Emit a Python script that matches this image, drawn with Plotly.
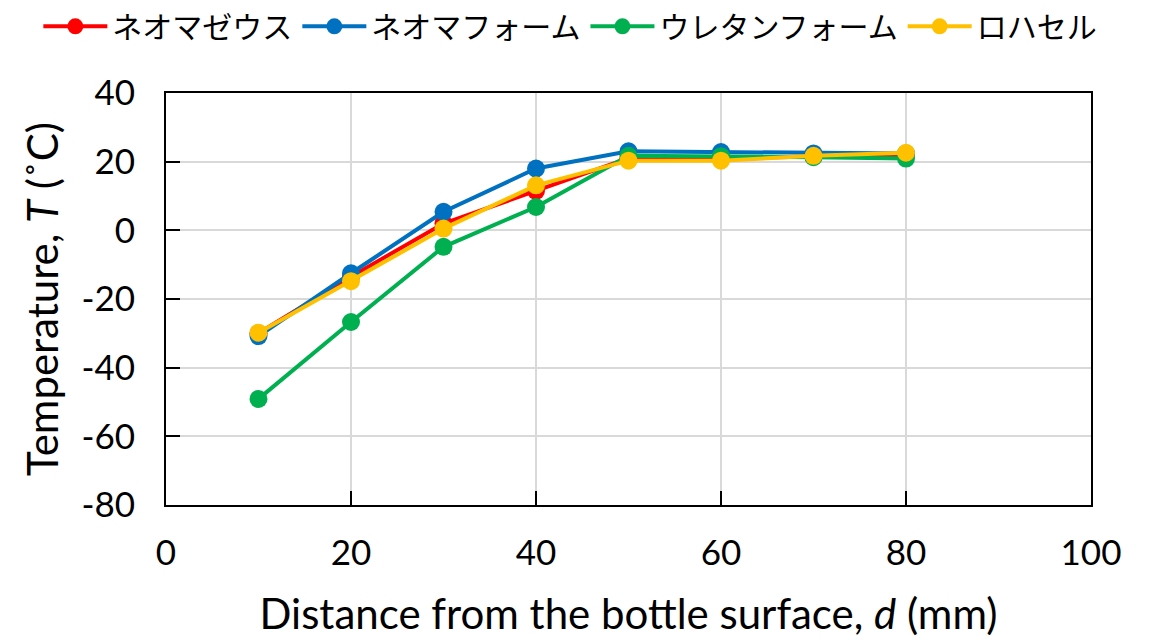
import plotly.graph_objects as go

# Distance from the bottle surface (mm)
distance = [10, 20, 30, 40, 50, 60, 70, 80]

# Temperature profiles (°C) for each insulating material
neoma_zeus = [-30.0, -13.5, 2.0, 11.5, 21.0, 21.0, 21.5, 22.0]
neoma_foam = [-30.8, -12.5, 5.4, 18.0, 23.0, 22.8, 22.4, 22.4]
urethane_foam = [-49.1, -26.7, -4.8, 6.8, 21.7, 21.6, 21.3, 20.9]
rohacell = [-29.8, -14.8, 0.5, 13.1, 20.3, 20.3, 21.7, 22.6]

series_names = ["ネオマゼウス", "ネオマフォーム", "ウレタンフォーム", "ロハセル"]
series_values = [neoma_zeus, neoma_foam, urethane_foam, rohacell]
series_colors = ["#FF0000", "#0070C0", "#00B050", "#FFC000"]

x_ticks = [0, 20, 40, 60, 80, 100]
y_ticks = [-80, -60, -40, -20, 0, 20, 40]

fig = go.Figure()
for name, vals, color in zip(series_names, series_values, series_colors):
    fig.add_trace(go.Scatter(
        x=distance, y=vals, name=name, mode="lines+markers",
        line=dict(color=color, width=4),
        marker=dict(color=color, size=18),
    ))

tick_font = dict(family="Lato, Liberation Sans, sans-serif", size=35, color="black")
title_font = dict(family="Lato, Liberation Sans, sans-serif", size=42, color="black")

fig.update_layout(
    width=1151, height=642,
    margin=dict(l=166, r=60, t=93, b=137, autoexpand=False),
    paper_bgcolor="white", plot_bgcolor="white",
    legend=dict(
        orientation="h", x=-0.138, xref="paper", xanchor="left",
        y=1.225, yref="paper", yanchor="top",
        bgcolor="rgba(0,0,0,0)",
        font=dict(family="Noto Sans CJK JP, sans-serif", size=30, color="black"),
        itemwidth=64, tracegroupgap=0,
    ),
    xaxis=dict(
        range=[0, 100], tickvals=x_ticks, ticktext=[str(v) for v in x_ticks],
        showgrid=True, gridcolor="#D9D9D9", gridwidth=2,
        showline=True, linecolor="black", linewidth=2, mirror=True,
        ticks="inside", ticklen=14, tickwidth=2, tickcolor="black",
        tickfont=tick_font, ticklabelstandoff=16,
        zeroline=False, automargin=False,
        title=dict(text="Distance from the bottle surface, <i>d</i> (mm)",
                   font=title_font, standoff=29),
    ),
    yaxis=dict(
        range=[-80, 40], tickvals=y_ticks, ticktext=[str(v) for v in y_ticks],
        showgrid=True, gridcolor="#D9D9D9", gridwidth=2,
        showline=True, linecolor="black", linewidth=2, mirror=True,
        ticks="inside", ticklen=14, tickwidth=2, tickcolor="black",
        tickfont=tick_font, ticklabelstandoff=22,
        zeroline=False, automargin=False, side="left",
        title=dict(text="Temperature, <i>T</i> (˚C)", font=title_font, standoff=10),
    ),
)

fig.write_html("out.html")
